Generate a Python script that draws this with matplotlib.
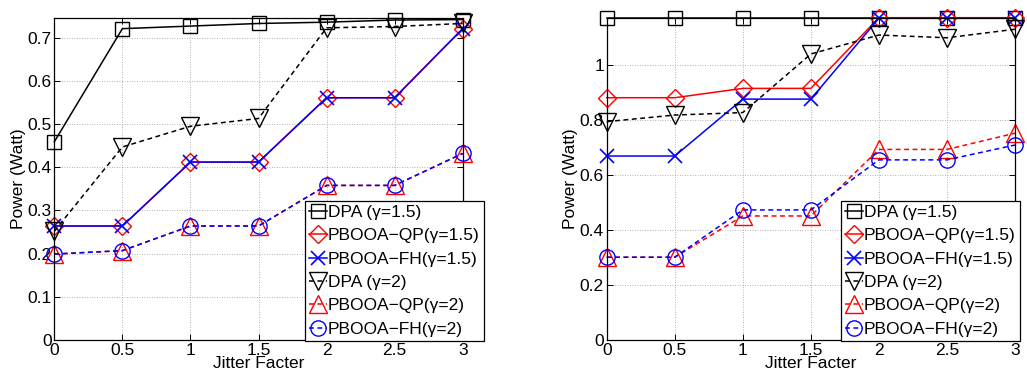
import matplotlib
matplotlib.use("Agg")
import matplotlib.pyplot as plt

plt.rcParams['font.family'] = ['Liberation Sans', 'DejaVu Sans']

jitter = [0, 0.5, 1, 1.5, 2, 2.5, 3]
xtick_labels = ['0', '0.5', '1', '1.5', '2', '2.5', '3']

series_labels = ['DPA (γ=1.5)', 'PBOOA−QP(γ=1.5)', 'PBOOA−FH(γ=1.5)',
                 'DPA (γ=2)', 'PBOOA−QP(γ=2)', 'PBOOA−FH(γ=2)']

# Left panel
left_dpa_15 = [0.459, 0.721, 0.727, 0.733, 0.736, 0.741, 0.742]
left_qp_15 = [0.264, 0.264, 0.412, 0.412, 0.561, 0.561, 0.721]
left_fh_15 = [0.264, 0.264, 0.412, 0.412, 0.561, 0.561, 0.721]
left_dpa_2 = [0.252, 0.447, 0.495, 0.513, 0.723, 0.726, 0.733]
left_qp_2 = [0.199, 0.207, 0.264, 0.264, 0.358, 0.358, 0.432]
left_fh_2 = [0.199, 0.207, 0.264, 0.264, 0.358, 0.358, 0.432]
left_yticks = [0, 0.1, 0.2, 0.3, 0.4, 0.5, 0.6, 0.7]
left_ytick_labels = ['0', '0.1', '0.2', '0.3', '0.4', '0.5', '0.6', '0.7']

# Right panel
right_dpa_15 = [1.172, 1.172, 1.172, 1.172, 1.172, 1.172, 1.172]
right_qp_15 = [0.881, 0.881, 0.915, 0.915, 1.172, 1.172, 1.172]
right_fh_15 = [0.669, 0.669, 0.876, 0.876, 1.170, 1.170, 1.170]
right_dpa_2 = [0.794, 0.818, 0.827, 1.040, 1.109, 1.099, 1.130]
right_qp_2 = [0.301, 0.301, 0.451, 0.451, 0.693, 0.693, 0.752]
right_fh_2 = [0.301, 0.301, 0.473, 0.473, 0.655, 0.655, 0.709]
right_yticks = [0, 0.2, 0.4, 0.6, 0.8, 1.0]
right_ytick_labels = ['0', '0.2', '0.4', '0.6', '0.8', '1']

dash = (0, (3.2, 2.3))
styles = [
    dict(color='black', linestyle='-', marker='s', ms=10),
    dict(color='red', linestyle='-', marker='D', ms=9),
    dict(color='blue', linestyle='-', marker='x', ms=10, mew=1.2),
    dict(color='black', linestyle=dash, marker='v', ms=13),
    dict(color='red', linestyle=dash, marker='^', ms=13),
    dict(color='blue', linestyle=dash, marker='o', ms=11),
]

FS = 12.5
fig = plt.figure(figsize=(10.27, 3.76), dpi=100)
W, H = 1027, 376


def panel(rect, data, ylim, yticks, yticklabels, legend_px):
    ax = fig.add_axes(rect)
    for vals, lab, st in zip(data, series_labels, styles):
        st = dict(st)
        ax.plot(jitter, vals, label=lab, lw=1.1, mfc='none',
                mec=st['color'], clip_on=False, **st)
    ax.set_xlim(0, 3)
    ax.set_ylim(*ylim)
    ax.set_xticks(jitter)
    ax.set_xticklabels(xtick_labels)
    ax.set_yticks(yticks)
    ax.set_yticklabels(yticklabels)
    ax.tick_params(direction='in', length=4, width=0.7, top=True, right=True,
                   labelsize=FS, pad=2)
    ax.tick_params(axis='y', pad=2)
    ax.grid(True, linestyle=(0, (1, 2)), color='0.6', lw=0.6)
    for s in ax.spines.values():
        s.set_linewidth(0.9)
    ax.set_xlabel('Jitter Facter', fontsize=FS, labelpad=-1)
    ax.set_ylabel('Power (Watt)', fontsize=FS, labelpad=1)
    x0, y0 = legend_px
    leg = ax.legend(loc='lower left',
                    bbox_to_anchor=(x0 / W, 1 - y0 / H),
                    bbox_transform=fig.transFigure,
                    fontsize=FS, frameon=True, fancybox=False, framealpha=1,
                    edgecolor='black', borderpad=0.25, labelspacing=0.47,
                    handlelength=1.0, handletextpad=0.05, borderaxespad=0)
    leg.get_frame().set_linewidth(0.9)
    leg.set_zorder(10)
    return ax


panel([54.3 / W, 36 / H, 408.4 / W, 321.7 / H],
      [left_dpa_15, left_qp_15, left_fh_15, left_dpa_2, left_qp_2, left_fh_2],
      (0, 0.745), left_yticks, left_ytick_labels, (305, 341))
panel([606.7 / W, 36 / H, 408.3 / W, 322.3 / H],
      [right_dpa_15, right_qp_15, right_fh_15, right_dpa_2, right_qp_2, right_fh_2],
      (0, 1.172), right_yticks, right_ytick_labels, (841, 341))

fig.savefig('out.png', dpi=100)
